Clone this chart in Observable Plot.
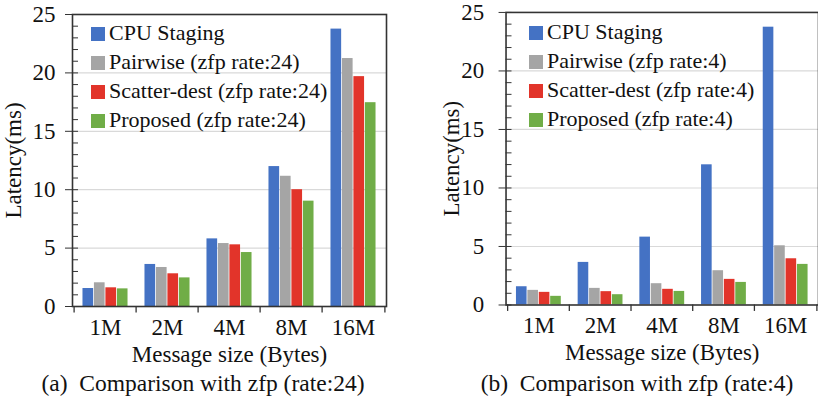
<!DOCTYPE html>
<html>
<head>
<meta charset="utf-8">
<script src="https://cdn.jsdelivr.net/npm/d3@7"></script>
<script src="https://cdn.jsdelivr.net/npm/@observablehq/plot@0.6"></script>
<style>
  body { margin: 0; background: #fff; }
  #wrap { position: relative; width: 818px; height: 403px; overflow: hidden; font-family: 'Liberation Serif', 'Times New Roman', serif; color: #111; }
  #wrap svg text { font-family: 'Liberation Serif', 'Times New Roman', serif; }
  .panel { position: absolute; top: 0; }
  .legend { position: absolute; font-size: 22px; }
  .legend .row { height: 29px; line-height: 29px; white-space: nowrap; }
  .legend .sw { display: inline-block; width: 14px; height: 14px; margin-right: 4px; vertical-align: -1px; }
  .caption { position: absolute; top: 370px; font-size: 23.5px; text-align: center; white-space: nowrap; }
</style>
</head>
<body>
<div id="wrap">
  <div id="pa" class="panel" style="left:0"></div>
  <div id="pb" class="panel" style="left:410px"></div>
  <div id="la" class="legend" style="left:91px;top:18px"></div>
  <div id="lb" class="legend" style="left:529px;top:17px"></div>
  <div class="caption" style="left:0;width:406px">(a)&nbsp; Comparison with zfp (rate:24)</div>
  <div class="caption" style="left:430px;width:414px">(b)&nbsp; Comparison with zfp (rate:4)</div>
</div>
<script>
const sizes = ["1M", "2M", "4M", "8M", "16M"];
const seriesNames = ["CPU Staging", "Pairwise", "Scatter-dest", "Proposed"];
const colors = ["#4472C4", "#A5A5A5", "#E2342A", "#70AD47"];
const yTicks = [0, 5, 10, 15, 20, 25];
const yMinorTicks = [0,1,2,3,4,5,6,7,8,9,10,11,12,13,14,15,16,17,18,19,20,21,22,23,24,25];

// Panel (a): zfp rate 24
const cpuStaging24 = [1.54, 3.60, 5.79, 11.98, 23.75];
const pairwise24   = [2.03, 3.34, 5.39, 11.15, 21.23];
const scatter24    = [1.60, 2.80, 5.28, 10.00, 19.68];
const proposed24   = [1.51, 2.45, 4.62, 9.02, 17.45];

// Panel (b): zfp rate 4
const cpuStaging4 = [1.56, 3.64, 5.80, 11.98, 23.74];
const pairwise4   = [1.25, 1.42, 1.82, 2.93, 5.06];
const scatter4    = [1.08, 1.14, 1.34, 2.19, 3.95];
const proposed4   = [0.74, 0.88, 1.16, 1.93, 3.47];

const FONT = "'Liberation Serif', 'Times New Roman', serif";

function makePanel(seriesValues, opts) {
  const {width, marginLeft, marginRight, marginTop, marginBottom, height} = opts;
  const bw = (width - marginLeft - marginRight) / sizes.length;
  const pad = bw * 0.135;
  const barW = (bw - 2 * pad) / seriesNames.length;
  const axisColor = "#333";
  const bars = seriesValues.map((vals, i) =>
    Plot.barY(sizes.map((s, j) => ({size: s, value: vals[j]})), {
      x: "size", y: "value", fill: colors[i],
      insetLeft: pad + i * barW,
      insetRight: bw - pad - (i + 1) * barW
    })
  );
  return Plot.plot({
    width, height, marginLeft, marginRight, marginTop, marginBottom,
    style: {fontFamily: FONT, fontSize: "23px", color: "#111", background: "transparent", overflow: "visible"},
    x: {domain: sizes, paddingInner: 0, paddingOuter: 0, axis: null},
    y: {domain: [0, 25], axis: null},
    marks: [
      Plot.gridY([5, 10, 15, 20], {stroke: "#d9d9d9", strokeOpacity: 1, strokeWidth: 1.2}),
      ...bars,
      Plot.axisY({ticks: yMinorTicks, tickSize: -6, tickFormat: () => "", label: null, stroke: axisColor}),
      Plot.axisY({ticks: yTicks, tickSize: 7, tickPadding: opts.tickPadding, fontSize: 23, label: "Latency(ms)", labelAnchor: "center", labelArrow: "none", labelOffset: opts.labelOffset, stroke: axisColor}),
      Plot.axisX({tickSize: 0, tickPadding: 12, fontSize: 23, label: "Message size (Bytes)", labelAnchor: "center", labelArrow: "none", labelOffset: 55}),
      Plot.ruleX(sizes, {x: d => d, y1: 0, y2: -0.55, dx: -bw / 2, stroke: axisColor, strokeWidth: 1.3}),
      Plot.ruleX([sizes[sizes.length - 1]], {x: d => d, y1: 0, y2: -0.55, dx: bw / 2, stroke: axisColor, strokeWidth: 1.3}),
      Plot.frame({stroke: axisColor, strokeWidth: 1.6})
    ]
  });
}

document.getElementById("pa").append(makePanel(
  [cpuStaging24, pairwise24, scatter24, proposed24],
  {width: 400, height: 366, marginLeft: 72, marginRight: 14, marginTop: 14, marginBottom: 60, labelOffset: 68, tickPadding: 10}
));
document.getElementById("pb").append(makePanel(
  [cpuStaging4, pairwise4, scatter4, proposed4],
  {width: 410, height: 366, marginLeft: 96, marginRight: 0, marginTop: 12, marginBottom: 60, labelOffset: 64, tickPadding: 15}
));

function legend(id, suffix) {
  const el = document.getElementById(id);
  seriesNames.forEach((name, i) => {
    const row = document.createElement("div");
    row.className = "row";
    const sw = document.createElement("span");
    sw.className = "sw";
    sw.style.background = colors[i];
    row.append(sw, document.createTextNode(i === 0 ? name : `${name} (zfp ${suffix})`));
    el.append(row);
  });
}
legend("la", "rate:24");
legend("lb", "rate:4");
</script>
</body>
</html>
